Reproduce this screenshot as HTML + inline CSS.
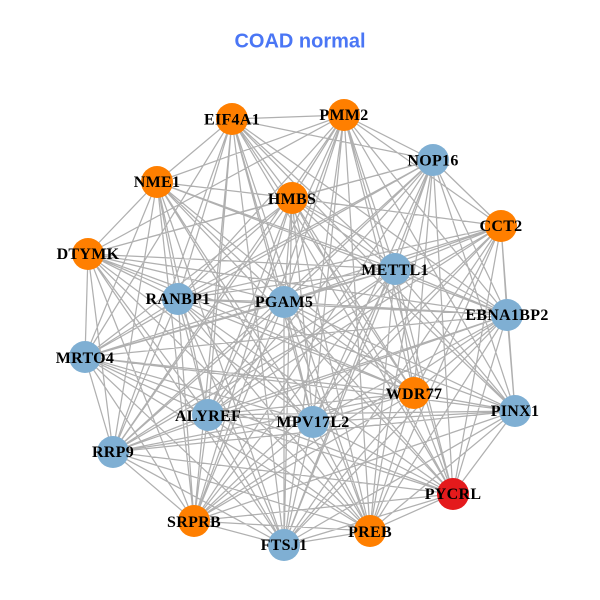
<!DOCTYPE html>
<html><head><meta charset="utf-8"><style>
html,body{margin:0;padding:0;background:#fff}
svg{display:block}
.l{font-family:"Liberation Serif",serif;font-weight:bold;font-size:16px;letter-spacing:.3px;fill:#000;text-anchor:middle}
.t{font-family:"Liberation Sans",sans-serif;font-weight:bold;font-size:20px;fill:#4a76f5;text-anchor:middle}
</style></head><body>
<svg width="600" height="600" viewBox="0 0 600 600" xmlns="http://www.w3.org/2000/svg">
<path fill="none" stroke="#b0b0b0" stroke-width="1.25" d="
M232 119L344 115L232 119L433 160L232 119L507 315L232 119L515 411L232 119L453 494L232 119L370 531L232 119L284 545L232 119L194 521L232 119L113 452L232 119L85 357L232 119L157 182L232 119L292 198L232 119L178 299L232 119L284 302L232 119L395 269L232 119L414 393L232 119L313 422L232 119L208 415
M344 115L433 160L344 115L501 226L344 115L507 315L344 115L515 411L344 115L453 494L344 115L370 531L344 115L284 545L344 115L194 521L344 115L113 452L344 115L88 254L344 115L157 182L344 115L292 198L344 115L178 299L344 115L284 302L344 115L395 269L344 115L414 393L344 115L313 422L344 115L208 415
M433 160L501 226L433 160L507 315L433 160L515 411L433 160L453 494L433 160L370 531L433 160L284 545L433 160L194 521L433 160L113 452L433 160L85 357L433 160L88 254L433 160L292 198L433 160L178 299L433 160L284 302L433 160L395 269L433 160L414 393L433 160L313 422L433 160L208 415
M501 226L507 315L501 226L515 411L501 226L453 494L501 226L370 531L501 226L284 545L501 226L194 521L501 226L113 452L501 226L85 357L501 226L292 198L501 226L178 299L501 226L284 302L501 226L395 269L501 226L414 393L501 226L313 422L501 226L208 415
M507 315L515 411L507 315L453 494L507 315L370 531L507 315L284 545L507 315L194 521L507 315L113 452L507 315L85 357L507 315L88 254L507 315L157 182L507 315L292 198L507 315L178 299L507 315L284 302L507 315L395 269L507 315L414 393L507 315L313 422L507 315L208 415
M515 411L453 494L515 411L370 531L515 411L284 545L515 411L194 521L515 411L113 452L515 411L85 357L515 411L88 254L515 411L292 198L515 411L284 302L515 411L395 269L515 411L414 393L515 411L313 422L515 411L208 415
M453 494L370 531L453 494L284 545L453 494L194 521L453 494L113 452L453 494L85 357L453 494L157 182L453 494L292 198L453 494L178 299L453 494L284 302L453 494L395 269L453 494L414 393L453 494L313 422L453 494L208 415
M370 531L284 545L370 531L194 521L370 531L113 452L370 531L85 357L370 531L88 254L370 531L157 182L370 531L292 198L370 531L178 299L370 531L284 302L370 531L395 269L370 531L414 393L370 531L313 422L370 531L208 415
M284 545L194 521L284 545L113 452L284 545L85 357L284 545L88 254L284 545L157 182L284 545L292 198L284 545L178 299L284 545L284 302L284 545L395 269L284 545L414 393L284 545L313 422L284 545L208 415
M194 521L113 452L194 521L85 357L194 521L88 254L194 521L157 182L194 521L292 198L194 521L178 299L194 521L284 302L194 521L395 269L194 521L414 393L194 521L313 422L194 521L208 415
M113 452L85 357L113 452L88 254L113 452L157 182L113 452L292 198L113 452L178 299L113 452L284 302L113 452L395 269L113 452L414 393L113 452L313 422L113 452L208 415
M85 357L88 254L85 357L157 182L85 357L292 198L85 357L178 299L85 357L284 302L85 357L395 269L85 357L414 393L85 357L313 422L85 357L208 415
M88 254L157 182L88 254L292 198L88 254L178 299L88 254L284 302L88 254L395 269L88 254L414 393L88 254L313 422L88 254L208 415
M157 182L292 198L157 182L178 299L157 182L284 302L157 182L395 269L157 182L414 393L157 182L313 422L157 182L208 415
M292 198L178 299L292 198L284 302L292 198L395 269L292 198L414 393L292 198L313 422L292 198L208 415
M178 299L284 302L178 299L395 269L178 299L414 393L178 299L313 422L178 299L208 415
M284 302L395 269L284 302L414 393L284 302L313 422L284 302L208 415
M395 269L414 393L395 269L313 422L395 269L208 415
M414 393L313 422L414 393L208 415
M313 422L208 415"/>
<g fill="#ff7f00">
<circle cx="232" cy="119" r="16"/><circle cx="344" cy="115" r="16"/><circle cx="501" cy="226" r="16"/><circle cx="370" cy="531" r="16"/><circle cx="194" cy="521" r="16"/><circle cx="88" cy="254" r="16"/><circle cx="157" cy="182" r="16"/><circle cx="292" cy="198" r="16"/><circle cx="414" cy="393" r="16"/>
</g>
<g fill="#7fafd3">
<circle cx="433" cy="160" r="16"/><circle cx="507" cy="315" r="16"/><circle cx="515" cy="411" r="16"/><circle cx="284" cy="545" r="16"/><circle cx="113" cy="452" r="16"/><circle cx="85" cy="357" r="16"/><circle cx="178" cy="299" r="16"/><circle cx="284" cy="302" r="16"/><circle cx="395" cy="269" r="16"/><circle cx="313" cy="422" r="16"/><circle cx="208" cy="415" r="16"/>
</g>
<circle cx="453" cy="494" r="16" fill="#e41a1c"/>
<text class="t" x="300" y="47.5">COAD normal</text>
<text class="l" x="232" y="124.5">EIF4A1</text>
<text class="l" x="344" y="120">PMM2</text>
<text class="l" x="433" y="165.5">NOP16</text>
<text class="l" x="501" y="231">CCT2</text>
<text class="l" x="507" y="320">EBNA1BP2</text>
<text class="l" x="515" y="416">PINX1</text>
<text class="l" x="453" y="499">PYCRL</text>
<text class="l" x="370" y="537">PREB</text>
<text class="l" x="284" y="550">FTSJ1</text>
<text class="l" x="194" y="527">SRPRB</text>
<text class="l" x="113" y="457">RRP9</text>
<text class="l" x="85" y="363">MRTO4</text>
<text class="l" x="88" y="259">DTYMK</text>
<text class="l" x="157" y="187">NME1</text>
<text class="l" x="292" y="204">HMBS</text>
<text class="l" x="178" y="304">RANBP1</text>
<text class="l" x="284" y="307">PGAM5</text>
<text class="l" x="395" y="275">METTL1</text>
<text class="l" x="414" y="399">WDR77</text>
<text class="l" x="313" y="427">MPV17L2</text>
<text class="l" x="208" y="421">ALYREF</text>
</svg>
</body></html>
